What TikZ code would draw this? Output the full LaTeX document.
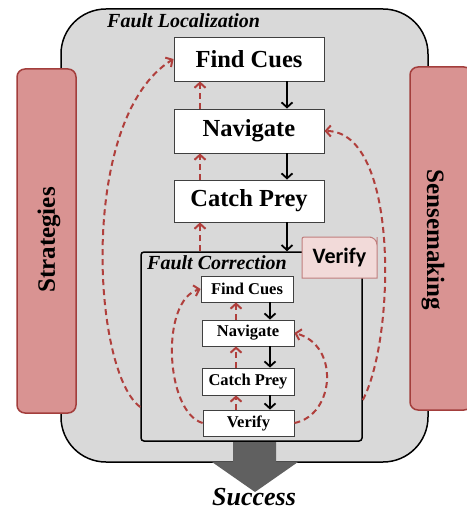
\documentclass[tikz,border=0pt]{standalone}
\usepackage{fontspec}
\setmainfont{Liberation Serif}
\newfontfamily\calib{Carlito}
\usetikzlibrary{arrows.meta,shadows,calc}
\definecolor{boxgray}{HTML}{D9D9D9}
\definecolor{redline}{HTML}{B03F3C}
\definecolor{pillfill}{HTML}{D99392}
\definecolor{pilldraw}{HTML}{A33E3C}
\definecolor{tabfill}{HTML}{F2DAD9}
\definecolor{tabdraw}{HTML}{C07E7D}
\definecolor{arrowgray}{HTML}{606060}
\tikzset{
  bigbox/.style={draw=black, fill=boxgray, line width=1.5pt, rounded corners=45pt, inner sep=0pt},
  pill/.style={draw=pilldraw, fill=pillfill, line width=1.5pt, rounded corners=8pt, inner sep=0pt},
  pilltext/.style={font=\fontsize{25}{27}\selectfont\bfseries, inner sep=0pt},
  stepbox/.style={draw=black!75, fill=white, line width=0.9pt, minimum width=150pt, minimum height=44pt, inner sep=0pt,
     font=\fontsize{24.5}{26}\selectfont\bfseries, drop shadow={shadow xshift=1pt, shadow yshift=-1pt, opacity=0.35}},
  smallbox/.style={draw=black!75, fill=white, line width=0.8pt, minimum width=92pt, minimum height=26pt, inner sep=0pt,
     font=\fontsize{16.5}{18}\selectfont\bfseries, drop shadow={shadow xshift=1pt, shadow yshift=-1pt, opacity=0.35}},
  fcframe/.style={draw=black, line width=1.5pt, rounded corners=3pt, inner sep=0pt},
  tab/.style={draw=tabdraw, fill=tabfill, line width=1pt, inner sep=0pt},
  title/.style={font=\fontsize{20}{22}\selectfont\bfseries\itshape, inner sep=0pt, anchor=west},
  blk/.style={-{Straight Barb[length=5pt,width=11pt,line width=1.8pt]}, line width=1.8pt, draw=black},
  rdash/.style={-{Straight Barb[length=5pt,width=11pt,line width=2pt]}, line width=2pt, draw=redline, dash pattern=on 6pt off 4pt},
}
\begin{document}
\begin{tikzpicture}[x=1pt,y=-1pt]
\useasboundingbox (0,0) rectangle (466,510);
% outer region
\node[bigbox, minimum width=367pt, minimum height=453pt] (floc) at (244.5,235.5) {};
\node[title] (floclbl) at (107,21) {Fault Localization};
% side pills
\node[pill, minimum width=59pt, minimum height=344pt] (strat) at (46.5,241) {};
\node[pilltext, rotate=90] (stratlbl) at (49,240) {Strategies};
\node[pill, minimum width=62pt, minimum height=343pt] (sense) at (441,238.5) {};
\node[pilltext, rotate=-90] (senselbl) at (433,240) {Sensemaking};
% outer steps
\node[stepbox] (fc1) at (249,59) {Find Cues};
\node[stepbox] (nv1) at (249,131) {Navigate};
\node[stepbox, minimum height=42pt] (cp1) at (249,201) {Catch Prey};
% fault correction frame
\node[fcframe, minimum width=221pt, minimum height=189pt] (fcbox) at (251.5,346.5) {};
\node[title] (fclbl) at (147,263) {Fault Correction};
% inner steps
\node[smallbox] (fc2) at (247,289) {Find Cues};
\node[smallbox] (nv2) at (248,333) {Navigate};
\node[smallbox, minimum height=27pt] (cp2) at (248,381.5) {Catch Prey};
\node[smallbox, minimum width=91pt] (vf2) at (248.5,423) {Verify};
% outer black arrows
\draw[blk] (fc1.south -| 287,0) -- (nv1.north -| 287,0);
\draw[blk] (nv1.south -| 287,0) -- (cp1.north -| 287,0);
\draw[blk] (cp1.south -| 287,0) -- (fcbox.north -| 287,0);
% outer red up arrows
\draw[rdash] (nv1.north -| 200,0) -- (fc1.south -| 200,0);
\draw[rdash] (cp1.north -| 200,0) -- (nv1.south -| 200,0);
\draw[rdash] (fcbox.north -| 200,0) -- (cp1.south -| 200,0);
% inner black arrows
\draw[blk] (fc2.south -| 270,0) -- (nv2.north -| 270,0);
\draw[blk] (nv2.south -| 270,0) -- (cp2.north -| 270,0);
\draw[blk] (cp2.south -| 270,0) -- (vf2.north -| 270,0);
% inner red up arrows
\draw[rdash] (nv2.north -| 236,0) -- (fc2.south -| 236,0);
\draw[rdash] (cp2.north -| 236,0) -- (nv2.south -| 236,0);
\draw[rdash] (vf2.north -| 236,0) -- (cp2.south -| 236,0);
% loops
\draw[rdash] (fcbox.west |- 0,407) .. controls (92,372) and (78,118) .. (fc1.west);
\draw[rdash] (fcbox.east |- 0,400) .. controls (395,340) and (400,131) .. (nv1.east);
\draw[rdash] (vf2.west) .. controls (165,412) and (160,300) .. (fc2.west);
\draw[rdash] (vf2.east) .. controls (335,415) and (340,345) .. (nv2.east);
% verify tab
\path[tab] (302,278) -- (302,240) [rounded corners=2pt] -- (302,237) -- (369,237) [rounded corners=8pt] -- (377,237) -- (377,245) [sharp corners] -- (377,278) -- cycle;
\node[font=\calib\fontsize{22}{24}\selectfont\bfseries, inner sep=0pt] (vtab) at (339.5,258) {Verify};
% success arrow
\fill[arrowgray] (233,442) -- (276,442) -- (276,462) -- (298,462) -- (255,492) -- (212,462) -- (233,462) -- cycle;
\node[font=\fontsize{26}{28}\selectfont\bfseries\itshape, inner sep=0pt] (succ) at (254,497) {Success};
\end{tikzpicture}
\end{document}
